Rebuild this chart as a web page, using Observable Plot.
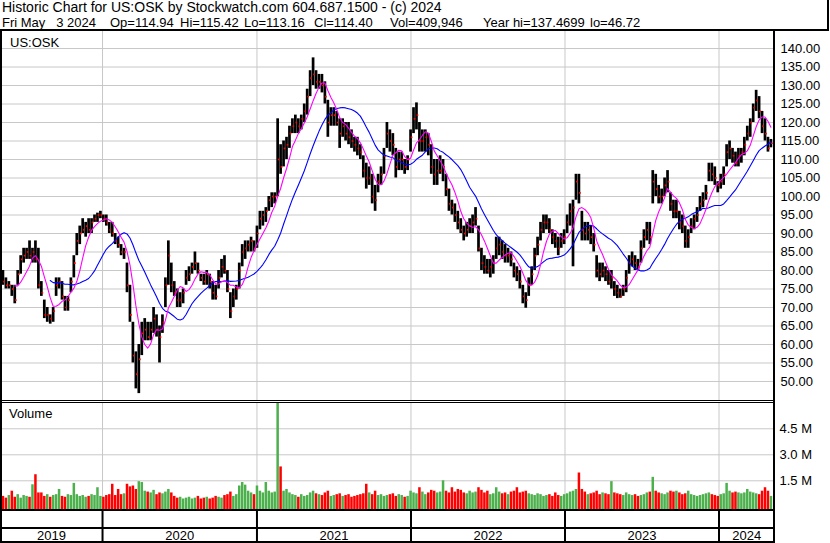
<!DOCTYPE html>
<html><head><meta charset="utf-8">
<script src="https://cdn.jsdelivr.net/npm/d3@7"></script>
<script src="https://cdn.jsdelivr.net/npm/@observablehq/plot@0.6"></script>
<style>
body{margin:0;background:#fff;}
#wrap{position:relative;width:830px;height:543px;overflow:hidden;background:#fff;font-family:"Liberation Sans",Arial,sans-serif;color:#000;}
.abs{position:absolute;white-space:pre;font-size:13px;line-height:13px;}
.h1{font-size:14px;line-height:14px;}
.ln{position:absolute;background:#000;}
</style></head><body>
<div id="wrap">
  <div class="abs h1" style="left:2px;top:0px">Historic Chart for US:OSK by Stockwatch.com 604.687.1500 - (c) 2024</div>
  <div class="abs" style="left:2px;top:16px">Fri May   3 2024</div>
  <div class="abs" style="left:110px;top:16px">Op=114.94</div>
  <div class="abs" style="left:180px;top:16px">Hi=115.42</div>
  <div class="abs" style="left:244px;top:16px">Lo=113.16</div>
  <div class="abs" style="left:314px;top:16px">Cl=114.40</div>
  <div class="abs" style="left:390px;top:16px">Vol=409,946</div>
  <div class="abs" style="left:483px;top:16px">Year hi=137.4699</div>
  <div class="abs" style="left:590px;top:16px">lo=46.72</div>
  <div id="price" style="position:absolute;left:0;top:31px"></div>
  <div id="vol" style="position:absolute;left:0;top:402px"></div>
  <div id="band" style="position:absolute;left:0;top:511px"></div>
  <div class="abs" style="left:10px;top:36px">US:OSK</div>
  <div class="abs" style="left:9px;top:407px">Volume</div>
  <div class="ln" style="left:0;top:29px;width:829px;height:2px"></div>
  <div class="ln" style="left:827px;top:0;width:2px;height:31px"></div>
  <div class="ln" style="left:0;top:31px;width:2px;height:512px"></div>
  <div class="ln" style="left:773px;top:31px;width:2px;height:512px"></div>
  <div class="ln" style="left:0;top:400px;width:774px;height:1px"></div>
  <div class="ln" style="left:0;top:402px;width:774px;height:1px"></div>
  <div class="ln" style="left:0;top:509px;width:775px;height:2px"></div>
  <div class="ln" style="left:0;top:527px;width:775px;height:2px"></div>
  <div class="ln" style="left:0;top:541px;width:775px;height:2px"></div>
</div>
<script>
// weekly bars (Fridays) from 2019-05-03 to 2024-05-03
const hi = [82,80,78,77,76,76,80,84,86,86,88,86,88,86,77,72,70,68,70,78,78,77,73,73,78,84,90,92,94,93,
94,94,95,95.5,96,95,95,93,93,90,89,87,86,82,76,66,58,60,66,67,66,66,70,68,65,68,78,88,82,77,
75,74,75,80,81,82,85,82,79,79,80,79,77,76,80,83,84,80,74,75,76,82,87,88,88,89,88,92,96,96,
97,100,101,101,121,114,115,116,119,121,122,121,122,125,129,134,137.47,134,133,133,131,126,124,124,123,121,121,120,120,118,
116,116,114,111,109,108,106,103,106,108,113,120,118,117,113,112,112,110,111,118,124,125.3,120,118,118,117,114,110,110,111,
110,106,102,99,98,96,94,92,93,94,95,97,92,86,84,83,83,84,89,89,88,87,86,85,82,81,80,76,74,78,
81,86,89,93,95,95,94,91,90,89,90,91,95,98,99,106,106,96,93,93,92,90,84,82,82,81,80,80,77,76,
75,76,80,84,85,84,83,88,91,93,93,107,106,103,102,105,107,101,99,99,96,95,92,91,94,95,97,100,101,103,
109,109,108,104,106,108,114,115,113,112,113,113,116,119,121,125,128.7,127,123,121,116,115.42];
const lo = [77,76,75,75,73,71,76,79,82,83,83,82,82,75,73,67,66,65.5,66,73,75,72,69,69,74,78,84,87,90,89,
90,90,93,93,94,93,92,90,89,87,86,84,83,74,66,55,48,46.72,57,61,61,61,63,62,55,63,70,76,74,73,
70,70,71,76,77,79,80,79,77,76,76,75,72,72,75,78,79,74,67,70,72,75,81,83,85,85,85,86,91,92,
93,96,97,98,100,106,108,110,113,117,117,117,118,120,122,127,130,129,129,128,125,116,119,119,119,113,116,115,114,113,
112,111,110,105,102,103,98,96,101,103,106,113,112,111,105,107,107,106,107,112,117,118,112,112,112,111,106,103,103,106,
104,100,96,95,93,91,90,88,89,90,90,92,85,80,79,79,78,79,83,84,83,82,82,81,78,77,75,71,69.8,73,
76,80,84,88,90,91,90,87,86,84,86,87,90,92,81,99,98,88,88,88,87,85,78,77,78,77,76,75,73,72.4,
72.5,73,74,79,81,80,80,82,86,88,87,98,100,98,98,100,101,96,94,94,91,90,86,86,90,91,93,96,97,99,
104,104,103,101,102,103,108,110,109,108,108,109,111,115,116,120,123,121,117,115,112,113.16];
const close = [79,77,76,76,75,72,79,83,84,85,84,85,83,76,74,68,68,67,69,76,77,73,70,72,77,82,88,90,91,92,
91,93,94,95,95,94,93,91,90,88,87,85,85,76,68,57,52,56,63,64,62,64,67,64,62,66,76,84,76,74,
72,72,74,78,79,81,82,80,78,77,79,77,74,73,78,81,80,75,69,73,75,80,85,86,87,88,86,90,94,95,
96,99,100,100,110,108,113,114,117,119,120,119,121,123,127,132,133,131,131,130,127,120,122,122,120,117,119,117,116,115,
114,113,112,107,105,105,100,99,104,106,111,117,115,114,108,110,110,108,110,116,121,122,115,115,116,114,108,106,107,107,
108,102,98,97,95,93,91,90,91,92,93,94,86,82,81,80,81,82,86,87,85,84,84,83,80,79,77,73,72,76,
79,84,87,91,93,93,91,89,88,86,88,89,93,96,97,104,101,91,90,91,89,87,80,79,80,79,77,78,75,74,
73,75,78,82,83,82,81,86,89,91,89,104,102,100,100,103,104,98,96,96,93,92,88,89,92,94,95,98,99,101,
107,106,105,103,104,106,112,113,111,109,111,112,114,117,120,124,126,123,119,117,113,114.4];
// peak daily volume of each week, thousands of shares
const vol = [900,600,500,650,900,550,700,500,650,600,
550,1270,1850,800,800,600,700,550,650,700,
1000,600,550,700,650,1350,700,600,650,550,
600,700,650,1100,600,550,650,700,1300,650,
1000,700,750,1300,1150,1200,1000,1450,1400,900,
850,800,950,700,800,750,850,1000,800,600,
500,550,450,500,550,450,500,600,450,500,
550,450,500,600,550,500,650,700,850,600,
700,1200,1400,1250,900,800,700,1200,900,800,
1400,900,800,850,6000,2300,900,1000,800,700,
650,550,700,600,650,800,900,750,700,650,
800,900,600,650,700,750,600,650,700,550,
600,650,700,750,1300,800,700,900,650,700,
600,650,700,750,600,700,650,550,600,900,
800,750,1100,850,700,800,950,900,800,850,
1500,900,800,1100,850,1000,950,800,750,900,
800,850,1100,950,800,900,700,750,1100,850,
750,800,700,850,900,1100,800,850,900,750,
700,650,750,700,600,650,700,600,800,650,
600,700,750,850,900,1000,1950,1000,850,700,
750,800,900,700,800,750,700,1450,800,750,
700,650,800,700,650,700,600,650,700,800,
850,1700,900,800,750,700,800,900,850,900,
800,700,750,900,700,650,600,650,700,750,
800,700,650,600,700,750,1350,900,800,850,
800,750,800,1000,850,800,750,700,900,1100,
900,600];
const priceTicks = [50,55,60,65,70,75,80,85,90,95,100,105,110,115,120,125,130,135,140];
const volTicks = [1500000,3000000,4500000];
const volTickLabels = ["1.5 M","3.0 M","4.5 M"];
const years = [2020,2021,2022,2023,2024];
const yearLabels = ["2019","2020","2021","2022","2023","2024"];

const start = Date.UTC(2019,4,3);
const data = close.map((c,i)=>({date:new Date(start+i*7*864e5),hi:hi[i],lo:lo[i],close:c,vol:vol[i]*1000,up:i===0||c>=close[i-1]}));
const xDomain = [new Date(Date.UTC(2019,4,4,5)), new Date(Date.UTC(2024,4,11,12))];
const yearStarts = years.map(y=>new Date(Date.UTC(y,0,1)));
const bounds = [xDomain[0], ...yearStarts, xDomain[1]];
const mids = yearLabels.map((_,i)=>new Date((+bounds[i] + +bounds[i+1])/2));
const grid = "#c8c8c8";
const font = "'Liberation Sans', Arial, sans-serif";
const common = {width:830, marginLeft:0, marginRight:56, marginTop:0, marginBottom:0,
  style:{background:"transparent", fontFamily:font, fontSize:"13px", color:"#000", overflow:"visible"}};
const xOpt = {type:"utc", domain:xDomain, axis:null};

const pricePlot = Plot.plot({...common, height:369, x:xOpt,
  y:{domain:[44.86,144.6], axis:"right", ticks:priceTicks, tickFormat:d=>d.toFixed(2), tickSize:0, tickPadding:6, label:null},
  marks:[
    Plot.ruleY(priceTicks,{stroke:grid, strokeWidth:1}),
    Plot.ruleX(yearStarts,{stroke:grid, strokeWidth:1}),
    Plot.ruleX(data,{x:"date", y1:"lo", y2:"hi", stroke:"#000", strokeWidth:2.7}),
    Plot.dot(data,{x:"date", y:"close", symbol:"square", r:0.95, fill:"#ff0000", stroke:null, dx:1}),
    Plot.lineY(data, Plot.windowY({k:18, anchor:"end", strict:true},{x:"date", y:"close", stroke:"#0000ff", strokeWidth:1.1})),
    Plot.lineY(data, Plot.windowY({k:6, anchor:"end", strict:true},{x:"date", y:"close", stroke:"#ff00ff", strokeWidth:1.1}))
  ]});
document.getElementById("price").appendChild(pricePlot);

const volMin = -155800, volMax = 6017000;
const volPlot = Plot.plot({...common, height:107, x:xOpt,
  y:{domain:[volMin,volMax], axis:"right", ticks:volTicks, tickFormat:d=>volTickLabels[volTicks.indexOf(d)], tickSize:0, tickPadding:5, label:null},
  color:{type:"identity"},
  marks:[
    Plot.ruleY(volTicks,{stroke:grid, strokeWidth:1}),
    Plot.ruleX(yearStarts,{stroke:grid, strokeWidth:1}),
    Plot.ruleX(data,{x:"date", y1:volMin, y2:"vol", stroke:d=>d.up?"#4cb04c":"#ff0000", strokeWidth:2.5})
  ]});
document.getElementById("vol").appendChild(volPlot);

const bandPlot = Plot.plot({...common, height:32, x:xOpt, y:{domain:[0,1], axis:null},
  marks:[
    Plot.ruleX(yearStarts,{stroke:"#000", strokeWidth:2}),
    Plot.text(yearLabels,{x:(d,i)=>mids[i], frameAnchor:"bottom", lineAnchor:"bottom", dy:-4, text:d=>d, fill:"#000", fontSize:13})
  ]});
document.getElementById("band").appendChild(bandPlot);
</script>
</body></html>
